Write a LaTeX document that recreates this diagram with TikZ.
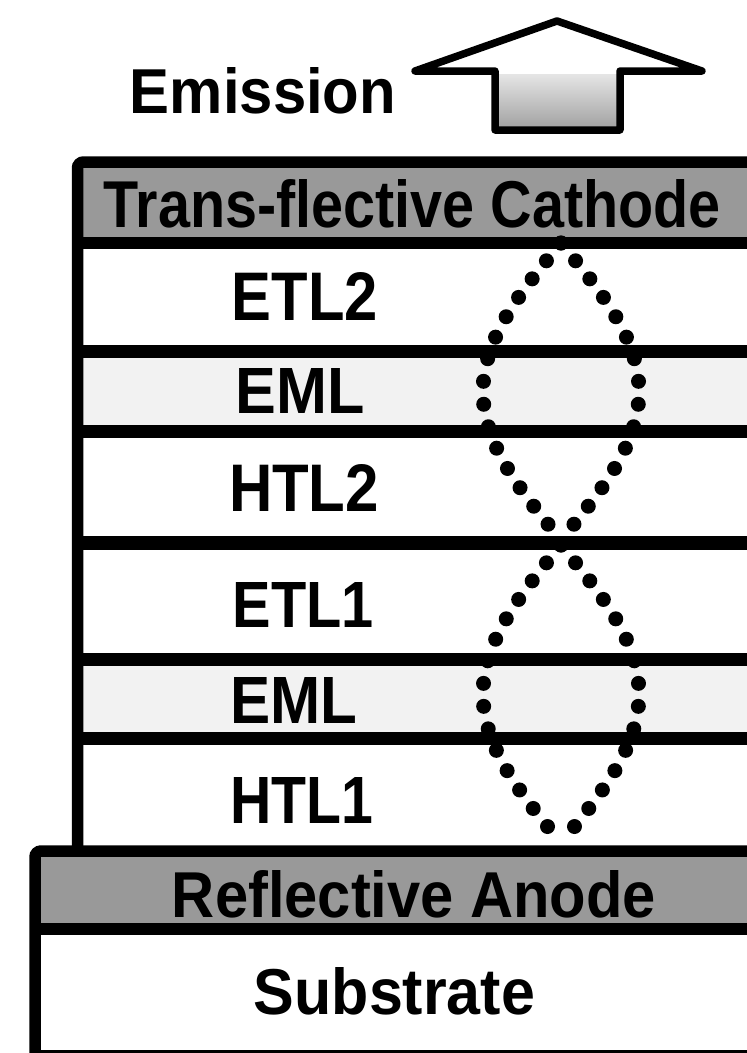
\documentclass[tikz,border=0pt]{standalone}
\usepackage{fontspec}
\setmainfont{Liberation Sans}
\usepackage{graphicx}
\newcommand{\fitlbl}[3]{\resizebox{#1pt}{#2pt}{\bfseries #3}}
\definecolor{htgray}{gray}{0.6}
\definecolor{emlgray}{gray}{0.95}
\begin{document}
\begin{tikzpicture}[x=1pt,y=-1pt,
  layerline/.style={line width=12.5pt},
  stackedge/.style={line width=11.5pt, rounded corners=6pt},
  dotlens/.style={line width=15pt, line cap=round, dash pattern=on 0pt off 23pt},
  lbl/.style={inner sep=0pt, anchor=base},
  arrowshape/.style={line width=7.5pt, line join=round}]
\useasboundingbox (0,0) rectangle (747,1053);
\clip (0,0) rectangle (747,1053);
\fill[white] (0,0) rectangle (747,1053);
% layer fills
\fill[htgray] (77,162) rectangle (760,243);
\fill[emlgray] (77,351) rectangle (760,432);
\fill[emlgray] (77,660) rectangle (760,739);
\fill[htgray] (35,851) rectangle (760,929);
% layer boundaries
\draw[layerline] (77,243) -- (760,243);
\draw[layerline] (77,351.5) -- (760,351.5);
\draw[layerline] (77,431.5) -- (760,431.5);
\draw[layerline, line width=14.5pt] (77,543) -- (760,543);
\draw[layerline, line width=13.5pt] (77,659.5) -- (760,659.5);
\draw[layerline] (77,738.5) -- (760,738.5);
\draw[layerline] (35,929) -- (760,929);
\draw[line width=3pt] (35,1051.5) -- (760,1051.5);
\draw[stackedge] (760,162) -- (77.5,162) -- (77.5,851);
\draw[stackedge] (760,851) -- (35,851) -- (35,1070);
% emission arrow
\shade[top color=gray!20, bottom color=gray!75] (495,74) rectangle (620,130);
\draw[arrowshape] (495,71) -- (415,71) -- (557,21) -- (702,71) -- (620,71) -- (620,130) -- (495,130) -- cycle;
% standing-wave lenses
\draw[dotlens] plot[domain=0:180, samples=60, variable=\t] ({561-78*sin(\t)},{243+1.65*\t});
\draw[dotlens] plot[domain=0:180, samples=60, variable=\t] ({561+78*sin(\t)},{243+1.65*\t});
\draw[dotlens] plot[domain=0:180, samples=60, variable=\t] ({561-78*sin(\t)},{545+1.6556*\t});
\draw[dotlens] plot[domain=0:180, samples=60, variable=\t] ({561+78*sin(\t)},{545+1.6556*\t});
% labels
\node[lbl] (emission) at (263,113) {\fitlbl{266}{46}{Emission}};
\node[lbl] (cathode) at (412.5,227) {\fitlbl{617}{48}{Trans-flective Cathode}};
\node[lbl] (etl2) at (305,320) {\fitlbl{146}{48}{ETL2}};
\node[lbl] (eml2) at (300,413) {\fitlbl{129}{45}{EML}};
\node[lbl] (htl2) at (304,511) {\fitlbl{150}{47}{HTL2}};
\node[lbl] (etl1) at (303.5,627) {\fitlbl{141}{45}{ETL1}};
\node[lbl] (eml1) at (294,723) {\fitlbl{127}{46}{EML}};
\node[lbl] (htl1) at (302,823) {\fitlbl{143}{46}{HTL1}};
\node[lbl] (anode) at (414,917) {\fitlbl{484}{47}{Reflective Anode}};
\node[lbl] (substrate) at (394.5,1014) {\fitlbl{281}{47}{Substrate}};
\end{tikzpicture}
\end{document}
